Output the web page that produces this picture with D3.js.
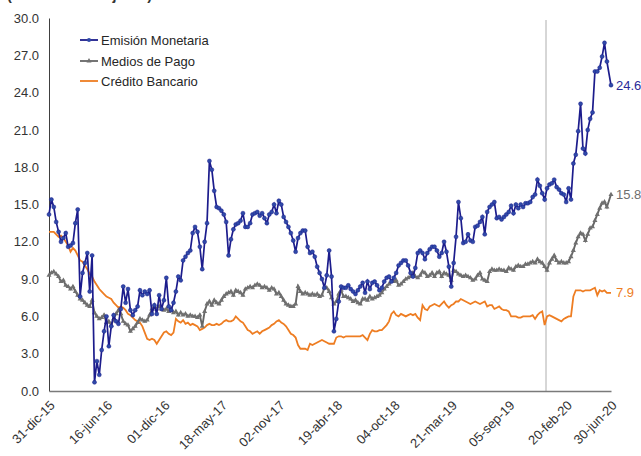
<!DOCTYPE html>
<html><head><meta charset="utf-8">
<script src="https://cdn.jsdelivr.net/npm/d3@7"></script>
<style>body{margin:0;background:#fff} text{font-family:"Liberation Sans",Arial,sans-serif}</style>
</head><body><svg id="c" width="641" height="456"></svg>
<script>
const startDate = "2015-12-31";
const lastDate = "2020-06-30";
const markerDate = "2019-12-23";
const seriesNames = ["Emisión Monetaria", "Medios de Pago", "Crédito Bancario"];
const titleText = "(Var. % anual a junio)";

const emision = [
14.2,15.4,14.8,13.6,12.8,12.0,12.3,12.7,11.6,11.7,11.9,13.5,14.6,7.6,9.5,10.3,11.1,8.0,10.9,0.7,
2.4,1.3,3.3,4.8,6.0,3.6,5.2,6.1,5.6,5.4,6.6,8.4,7.1,8.2,6.5,6.1,6.5,6.8,8.1,7.7,8.0,7.8,8.1,6.2,6.9,6.2,7.7,6.6,7.3,9.1,6.8,6.5,7.1,8.0,9.2,8.9,10.5,10.8,11.1,11.3,12.7,13.2,12.8,11.6,9.8,12.0,13.5,18.5,
17.8,16.1,14.8,14.7,14.5,14.2,13.6,10.9,12.2,13.0,13.4,13.5,13.7,14.3,13.2,13.2,13.5,14.2,14.3,14.4,14.1,14.3,13.9,13.5,14.2,14.4,15.0,14.3,15.3,15.0,14.0,13.6,13.2,12.7,12.1,11.2,12.3,12.7,12.9,12.9,11.6,11.1,11.2,10.8,10.0,9.5,9.0,8.3,9.3,11.3,9.2,4.8,
5.8,7.2,8.4,8.3,8.3,8.5,8.2,8.0,7.8,8.1,8.4,8.7,7.9,8.8,8.2,8.7,8.8,8.5,8.1,8.3,8.8,9.1,9.2,8.8,9.1,9.5,10.1,10.3,10.5,10.5,10.1,9.5,9.2,9.9,11.1,11.3,11.1,10.6,11.1,11.4,11.6,11.6,11.3,10.8,11.1,12.0,11.2,10.0,8.4,10.3,12.4,15.2,
13.9,11.9,12.0,12.6,12.1,12.0,13.2,13.3,13.6,14.0,12.6,14.4,14.8,15.0,15.2,13.9,14.0,13.8,14.0,14.2,14.4,14.9,14.3,15.0,14.7,15.0,14.8,15.1,15.1,15.2,15.6,15.8,17.0,16.5,15.9,15.4,16.3,16.6,16.7,17.0,16.4,16.2,15.9,15.8,15.2,16.3,15.4,18.3,19.0,20.9,23.1,19.5,19.1,21.0,21.9,22.4,25.7,25.7,26.0,26.9,28.0,26.5,24.6
];

const medios = [
9.3,9.5,9.6,9.4,9.2,8.8,8.9,8.5,8.4,8.2,
8.4,8.0,7.7,7.4,7.3,7.1,6.9,6.8,7.3,6.3,
6.0,5.8,5.9,6.1,5.5,5.6,5.3,5.8,6.2,6.5,
6.2,5.6,5.4,5.3,4.8,5.0,5.2,5.5,5.8,5.7,
5.6,5.7,6.1,6.6,6.8,6.6,6.8,6.6,6.5,6.6,
6.4,6.6,6.3,6.4,6.1,6.3,6.1,6.2,6.0,6.1,
6.0,6.0,5.9,6.1,5.2,6.4,7.0,7.2,6.9,7.3,
7.1,7.0,7.3,7.6,7.8,7.9,8.0,7.7,8.1,8.0,
7.9,7.7,8.2,8.3,8.4,8.3,8.5,8.6,8.5,8.3,
8.4,8.3,8.1,8.3,8.2,7.8,7.9,7.6,7.3,7.0,
6.9,6.8,6.8,7.0,8.4,8.0,7.8,7.9,7.8,7.7,
7.8,7.7,7.8,7.6,7.7,8.3,8.3,8.0,7.5,7.0,
7.2,7.8,8.1,7.6,7.6,7.5,7.4,7.2,7.3,7.1,
7.0,7.4,7.4,7.3,7.6,7.4,7.5,7.6,7.7,7.9,
8.2,8.4,8.6,8.8,8.8,8.9,8.5,8.6,8.8,9.0,
9.1,9.2,9.5,9.2,9.1,9.3,9.6,9.5,9.2,9.3,
9.5,9.2,9.5,9.6,9.2,9.5,9.4,9.3,8.9,9.7,
9.6,9.4,9.3,9.2,9.3,9.2,9.1,8.9,9.0,9.3,
9.5,9.0,8.9,8.8,9.6,9.8,9.7,9.7,9.8,9.7,
9.7,9.6,9.9,9.8,9.7,10.0,10.1,10.0,10.0,10.2,
10.2,10.3,10.4,10.3,10.6,10.4,10.3,10.0,9.7,10.3,
10.6,10.9,10.5,10.3,10.4,10.3,10.3,10.4,10.8,11.3,
11.9,12.4,12.7,12.6,12.1,12.6,13.1,13.2,13.7,14.2,
14.7,15.1,15.2,14.8,15.8
];

const credito = [
12.8,12.8,12.8,12.6,12.4,12.5,12.3,12.0,11.7,11.2,
11.5,11.3,10.9,10.5,10.4,10.1,9.8,9.4,9.2,8.8,
8.5,8.2,8.0,7.8,7.6,7.5,7.4,7.1,6.9,6.7,
6.8,6.7,6.5,6.2,6.1,5.9,5.7,5.6,5.5,5.2,
4.7,4.2,4.1,4.2,4.1,3.8,4.1,4.4,4.7,4.8,
4.6,4.5,4.7,5.8,5.6,5.5,5.7,5.4,5.5,5.3,
5.4,5.3,5.2,4.9,5.0,5.1,5.3,5.4,5.3,5.3,
5.4,5.3,5.4,5.6,5.7,5.6,5.6,5.7,6.0,5.8,
5.6,5.5,5.2,4.9,4.8,4.6,4.7,4.8,4.6,4.8,
4.9,5.0,5.1,5.3,5.4,5.6,5.7,5.5,5.4,5.2,
4.9,4.6,4.5,4.3,3.7,3.4,3.4,3.4,3.3,3.8,
3.7,3.8,3.9,4.0,4.1,4.0,3.9,3.8,3.8,3.8,
4.3,4.4,4.4,4.3,4.4,4.4,4.4,4.4,4.4,4.4,
4.4,4.5,4.3,4.1,4.6,4.9,4.8,4.8,4.9,4.9,
5.1,5.3,5.6,6.2,6.4,6.1,6.0,6.2,6.1,6.0,
6.1,6.2,6.1,6.2,5.9,5.7,6.9,6.6,6.5,6.8,
6.9,7.0,6.9,6.8,7.0,7.2,6.9,6.7,6.9,7.0,
7.2,7.2,7.4,7.3,7.2,7.1,7.0,7.1,7.2,7.1,
7.0,7.1,7.2,6.8,6.9,6.9,6.6,6.7,6.8,6.6,
6.5,6.5,6.4,6.0,6.0,6.0,5.9,5.9,6.0,6.0,
6.0,6.0,6.1,5.8,6.1,6.3,6.4,5.3,6.0,6.1,
6.0,5.9,5.8,5.7,5.6,5.8,5.9,6.0,6.0,7.6,
8.1,8.1,8.1,8.0,8.1,8.1,8.1,8.2,8.3,7.7,
8.1,8.0,8.1,7.9,7.9
];

const tickDates = ["2015-12-31","2016-06-16","2016-12-01","2017-05-18","2017-11-02","2018-04-19","2018-10-04","2019-03-21","2019-09-05","2020-02-20","2020-06-30"];
const tickLabels = ["31-dic-15","16-jun-16","01-dic-16","18-may-17","02-nov-17","19-abr-18","04-oct-18","21-mar-19","05-sep-19","20-feb-20","30-jun-20"];
const yTicks = [0,3,6,9,12,15,18,21,24,27,30];

const colors = {em: "#1c1c8c", emMark: "#2f4aa8", me: "#666666", cr: "#ee7d22"};

const parse = d3.utcParse("%Y-%m-%d");
const t0 = parse(startDate), t1 = parse(lastDate);
const dates = emision.map((_, i) => i === emision.length - 1 ? t1 : d3.utcDay.offset(t0, 7 * i));

const svg = d3.select("#c");
svg.append("rect").attr("width", 641).attr("height", 456).attr("fill", "#fff");

const x = d3.scaleUtc().domain([t0, t1]).range([49, 611]);
const y = d3.scaleLinear().domain([0, 30]).range([391, 18]);

// title (cut at top as in the reference)
svg.append("text").attr("x", 7).attr("y", -0.5).attr("font-size", 14.5).attr("font-weight", "bold")
  .attr("fill", "#333").text(titleText);

// vertical reference line
svg.append("line").attr("x1", x(parse(markerDate))).attr("x2", x(parse(markerDate)))
  .attr("y1", 20).attr("y2", 391).attr("stroke", "#9a9a9a").attr("stroke-width", 0.8);

// y axis
const ya = svg.append("g").attr("transform", "translate(49,0)")
  .call(d3.axisLeft(y).tickValues(yTicks).tickFormat(d3.format(".1f")).tickSize(0).tickPadding(10));
ya.select(".domain").attr("stroke", "#404040").attr("stroke-width", 1);
ya.selectAll("text").attr("font-size", 13).attr("fill", "#333").attr("font-family", "Liberation Sans, Arial, sans-serif");

// x axis
const xa = svg.append("g").attr("transform", "translate(0,391)")
  .call(d3.axisBottom(x).tickValues(tickDates.map(parse)).tickFormat((d, i) => tickLabels[i]).tickSize(0).tickSizeOuter(0));
xa.select(".domain").attr("stroke", "#7a7a7a").attr("stroke-width", 1.6);
xa.selectAll("text").attr("font-size", 13).attr("fill", "#333").attr("font-family", "Liberation Sans, Arial, sans-serif")
  .attr("x", 0).attr("y", 0).attr("dy", "0.35em").attr("text-anchor", "end")
  .attr("transform", "translate(3,12) rotate(-45)");

const mk = arr => arr.map((v, i) => ({date: dates[i], v}));
const line = d3.line().x(d => x(d.date)).y(d => y(d.v));

const crD = mk(credito), meD = mk(medios), emD = mk(emision);

svg.append("path").datum(crD).attr("d", line).attr("fill", "none").attr("stroke", colors.cr).attr("stroke-width", 1.8);

svg.append("path").datum(meD).attr("d", line).attr("fill", "none").attr("stroke", colors.me).attr("stroke-width", 1.9);
const tri = d3.symbol().type(d3.symbolTriangle).size(11);
svg.append("g").selectAll("path").data(meD).join("path")
  .attr("transform", d => `translate(${x(d.date)},${y(d.v)})`).attr("d", tri).attr("fill", "#707070");

svg.append("path").datum(emD).attr("d", line).attr("fill", "none").attr("stroke", colors.em).attr("stroke-width", 1.7);
svg.append("g").selectAll("circle").data(emD).join("circle")
  .attr("cx", d => x(d.date)).attr("cy", d => y(d.v)).attr("r", 2)
  .attr("fill", colors.emMark).attr("stroke", "#1c1c8c").attr("stroke-width", 0.5);

// end labels
const ends = [[emD, "#2b2b98"], [meD, "#6e6e6e"], [crD, "#ee7d22"]];
ends.forEach(([data, tc]) => {
  const last = data[data.length - 1];
  svg.append("text").attr("x", 616).attr("y", y(last.v)).attr("dy", "0.35em")
    .attr("font-size", 13).attr("fill", tc).text(d3.format(".1f")(last.v));
});

// legend
const legY = [40, 61, 81];
const legC = [colors.em, colors.me, colors.cr];
seriesNames.forEach((n, i) => {
  svg.append("line").attr("x1", 80).attr("x2", 98).attr("y1", legY[i]).attr("y2", legY[i])
    .attr("stroke", legC[i]).attr("stroke-width", 1.8);
  if (i === 0) svg.append("circle").attr("cx", 89).attr("cy", legY[i]).attr("r", 2).attr("fill", colors.emMark);
  if (i === 1) svg.append("path").attr("transform", `translate(89,${legY[i]})`).attr("d", tri).attr("fill", "#707070");
  svg.append("text").attr("x", 101).attr("y", legY[i]).attr("dy", "0.35em").attr("font-size", 13)
    .attr("fill", "#262626").text(n);
});
</script></body></html>
